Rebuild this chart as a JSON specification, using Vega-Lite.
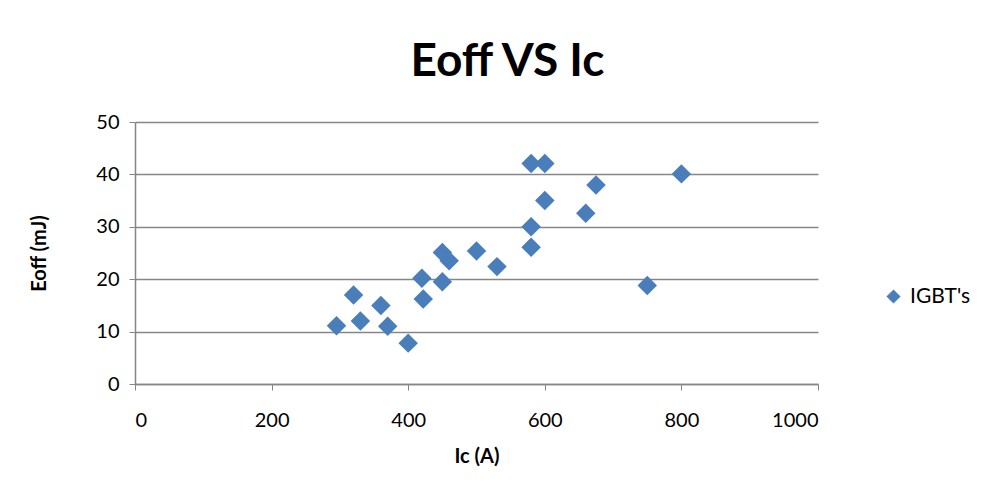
{
  "$schema": "https://vega.github.io/schema/vega-lite/v6.json",
  "autosize": {"type": "none"},
  "width": 683,
  "height": 262,
  "padding": {"left": 135, "top": 122, "right": 172, "bottom": 118},
  "background": "white",
  "title": {
    "text": "Eoff  VS  Ic",
    "font": "Lato",
    "fontSize": 46,
    "fontWeight": "bold",
    "color": "#000000",
    "anchor": "middle",
    "frame": "group",
    "dx": 31,
    "offset": 26
  },
  "data": {
    "values": [
      {"ic": 295, "eoff": 11.1},
      {"ic": 320, "eoff": 17.0},
      {"ic": 330, "eoff": 12.0},
      {"ic": 360, "eoff": 15.0},
      {"ic": 370, "eoff": 11.0},
      {"ic": 400, "eoff": 7.8},
      {"ic": 420, "eoff": 20.2},
      {"ic": 422, "eoff": 16.2},
      {"ic": 450, "eoff": 25.1},
      {"ic": 460, "eoff": 23.5},
      {"ic": 450, "eoff": 19.5},
      {"ic": 500, "eoff": 25.4},
      {"ic": 530, "eoff": 22.4},
      {"ic": 580, "eoff": 42.1},
      {"ic": 600, "eoff": 42.1},
      {"ic": 600, "eoff": 35.0},
      {"ic": 580, "eoff": 30.0},
      {"ic": 580, "eoff": 26.1},
      {"ic": 675, "eoff": 38.0},
      {"ic": 660, "eoff": 32.6},
      {"ic": 800, "eoff": 40.1},
      {"ic": 750, "eoff": 18.8}
    ]
  },
  "mark": {"type": "point", "filled": true, "opacity": 1, "size": 380},
  "encoding": {
    "x": {
      "field": "ic",
      "type": "quantitative",
      "title": "Ic (A)",
      "scale": {"domain": [0, 1000], "nice": false, "zero": true},
      "axis": {
        "values": [0, 200, 400, 600, 800, 1000],
        "format": "d",
        "grid": false,
        "domainColor": "#868686",
        "domainWidth": 1.5,
        "tickColor": "#868686",
        "tickSize": 6,
        "tickWidth": 1,
        "labelFont": "Lato",
        "labelFontSize": 20,
        "labelColor": "#000000",
        "labelPadding": 20,
        "titleFont": "Lato",
        "titleFontSize": 20,
        "titleFontWeight": "bold",
        "titleColor": "#000000",
        "titlePadding": 16
      }
    },
    "y": {
      "field": "eoff",
      "type": "quantitative",
      "title": "Eoff (mJ)",
      "scale": {"domain": [0, 50], "nice": false},
      "axis": {
        "values": [0, 10, 20, 30, 40, 50],
        "grid": true,
        "gridColor": "#868686",
        "gridWidth": 1.5,
        "domainColor": "#868686",
        "domainWidth": 1.5,
        "tickColor": "#868686",
        "tickSize": 6,
        "labelFont": "Lato",
        "labelFontSize": 20,
        "labelColor": "#000000",
        "labelPadding": 10,
        "titleFont": "Lato",
        "titleFontSize": 20,
        "titleFontWeight": "bold",
        "titleColor": "#000000",
        "titlePadding": 46
      }
    },
    "color": {
      "datum": "IGBT's",
      "type": "nominal",
      "scale": {"range": ["#4a7ebb"]},
      "legend": {
        "title": null,
        "orient": "none",
        "legendX": 748,
        "legendY": 164,
        "labelFont": "Lato",
        "labelFontSize": 21,
        "labelColor": "#000000",
        "symbolSize": 200,
        "labelOffset": 6
      }
    },
    "shape": {
      "datum": "IGBT's",
      "type": "nominal",
      "scale": {"range": ["diamond"]}
    }
  },
  "config": {"view": {"stroke": null}}
}
